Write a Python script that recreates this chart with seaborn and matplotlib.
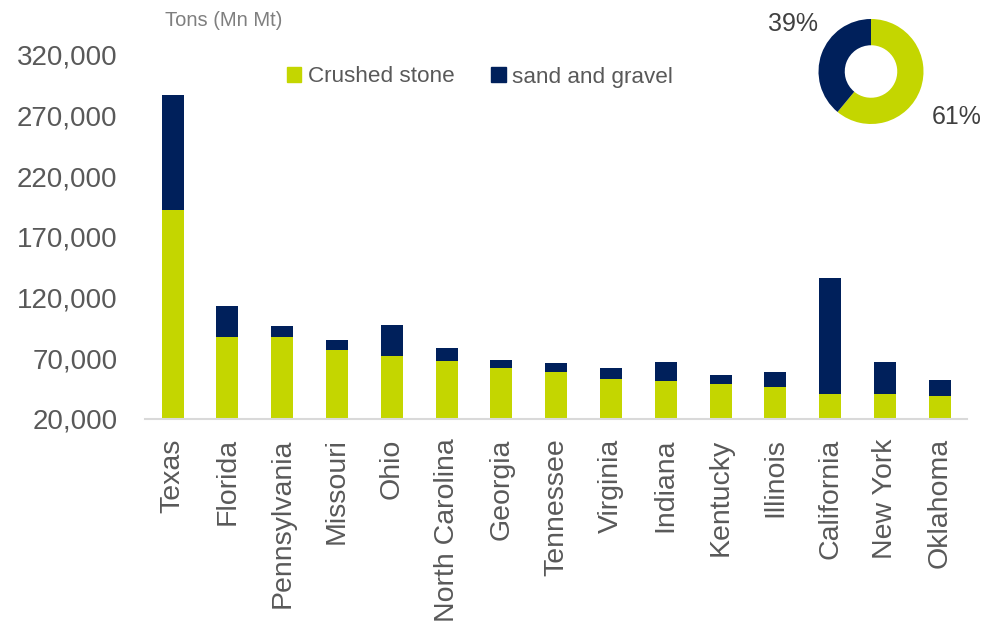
import matplotlib
matplotlib.use("Agg")
import matplotlib.pyplot as plt
import matplotlib.patches as mpatches
import seaborn as sns
import pandas as pd

states = ["Texas", "Florida", "Pennsylvania", "Missouri", "Ohio", "North Carolina",
          "Georgia", "Tennessee", "Virginia", "Indiana", "Kentucky", "Illinois",
          "California", "New York", "Oklahoma"]
crushed_stone = [192200, 87900, 87300, 76600, 71600, 67500, 61700, 58700, 52900,
                 51500, 48400, 46200, 40500, 40500, 39300]
sand_gravel = [94400, 24800, 9400, 8200, 26000, 11000, 7200, 7700, 8800,
               15400, 7800, 12100, 96000, 26400, 12700]
yticks = [20000, 70000, 120000, 170000, 220000, 270000, 320000]
share_labels = ["Crushed stone", "sand and gravel"]
share_values = [61, 39]

GREEN = "#C4D600"
NAVY = "#00205B"
GREY = "#595959"

sns.set_theme(style="white")
plt.rcParams["font.family"] = ["Liberation Sans", "DejaVu Sans"]

df = pd.DataFrame({"state": states, "crushed": crushed_stone, "sand": sand_gravel})
df["total"] = df["crushed"] + df["sand"]

fig = plt.figure(figsize=(9.81, 6.29), dpi=100)
ax = fig.add_axes([0.148, 0.334, 0.838, 0.5786])

sns.barplot(data=df, x="state", y="total", color=NAVY, width=0.4, ax=ax,
            linewidth=0, saturation=1)
sns.barplot(data=df, x="state", y="crushed", color=GREEN, width=0.4, ax=ax,
            linewidth=0, saturation=1)

ax.set_ylim(20000, 320000)
ax.set_xlim(-0.5, len(states) - 0.5)
ax.set_yticks(yticks)
ax.set_yticklabels([f"{v:,}" for v in yticks])
ax.set_xlabel("")
ax.set_ylabel("")
for s in ["left", "right", "top"]:
    ax.spines[s].set_visible(False)
ax.spines["bottom"].set_color("#D9D9D9")
ax.spines["bottom"].set_linewidth(1.5)
ax.tick_params(axis="y", labelsize=20, labelcolor=GREY, length=0, pad=20)
ax.tick_params(axis="x", labelsize=20.5, labelcolor=GREY, length=0, pad=14,
               labelrotation=90)

fig.text(165 / 981, 1 - 20 / 629, "Tons (Mn Mt)", fontsize=14.5, color="#7F7F7F",
         ha="left", va="center")

handles = [mpatches.Patch(color=GREEN, label=share_labels[0]),
           mpatches.Patch(color=NAVY, label=share_labels[1])]
fig.legend(handles=handles, loc="center", bbox_to_anchor=(480 / 981, 1 - 77 / 629),
           ncol=2, frameon=False, fontsize=16.2, handlelength=0.65, handleheight=0.65,
           handletextpad=0.3, columnspacing=1.6, labelcolor=GREY)

pax = fig.add_axes([(871 - 52.5) / 981, (629 - 124) / 629, 105 / 981, 105 / 629])
pax.pie(share_values, colors=[GREEN, NAVY], startangle=90, counterclock=False,
        radius=1.0, wedgeprops=dict(width=0.5, linewidth=0))
pax.set_aspect("equal")
pax.set_xlim(-1.0, 1.0)
pax.set_ylim(-1.0, 1.0)
pax.axis("off")

fig.text(793 / 981, 1 - 24 / 629, f"{share_values[1]}%", fontsize=18, color="#404040",
         ha="center", va="center")
fig.text(957 / 981, 1 - 117 / 629, f"{share_values[0]}%", fontsize=18, color="#404040",
         ha="center", va="center")

fig.savefig("out.png", dpi=100)
